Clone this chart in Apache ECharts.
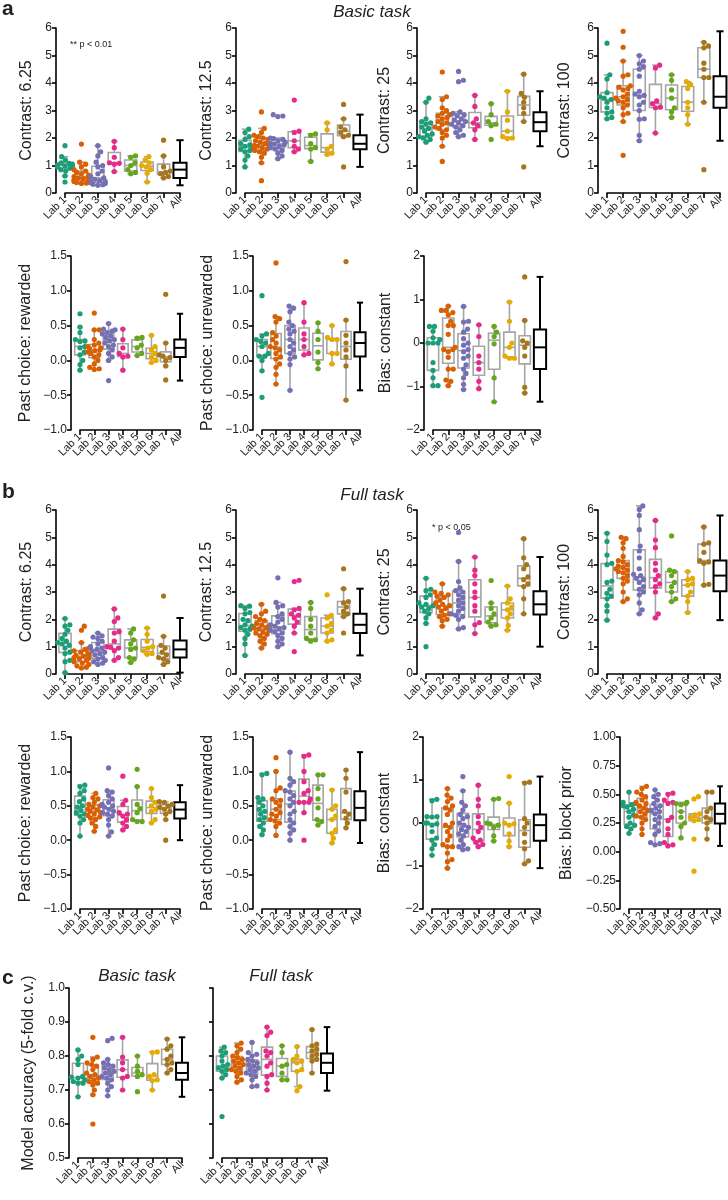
<!DOCTYPE html>
<html><head><meta charset="utf-8">
<script src="https://cdn.jsdelivr.net/npm/echarts@6/dist/echarts.min.js"></script>
<style>html,body{margin:0;padding:0;background:#fff}#c{width:728px;height:1200px}</style>
</head><body><div id="c"></div>
<script>
// ---------- categories / colours ----------
const LABS = ['Lab 1','Lab 2','Lab 3','Lab 4','Lab 5','Lab 6','Lab 7','All'];
const COLORS = ['#1b9e77','#d95f02','#7570b3','#e7298a','#66a61e','#e6ab02','#a6761d'];

// ---------- a: Basic task ----------
const basicC625 = [
 [1.72,1.32,1.2,1.1,1.08,1.05,1.02,1.0,0.98,0.95,0.9,0.85,0.8,0.62,0.4],
 [1.78,1.12,1.05,0.95,0.85,0.8,0.75,0.7,0.65,0.6,0.58,0.55,0.52,0.5,0.48,0.45,0.42,0.4,0.38,0.36,0.35],
 [1.72,1.5,1.35,1.12,1.0,0.95,0.8,0.7,0.6,0.55,0.5,0.45,0.42,0.4,0.38,0.35,0.32,0.3,0.28],
 [1.88,1.65,1.3,1.1,1.08,1.05,0.78],
 [1.35,1.3,1.1,1.0,0.85,0.75,0.7],
 [1.32,1.2,1.1,1.0,0.95,0.85,0.72,0.4],
 [1.92,1.35,0.95,0.8,0.75,0.7,0.6,0.55]];
const basicC125 = [
 [2.32,2.2,2.05,1.95,1.8,1.75,1.7,1.65,1.6,1.55,1.5,1.35,1.2,0.95],
 [2.95,2.35,2.2,2.1,2.05,2.0,1.95,1.9,1.85,1.8,1.75,1.72,1.7,1.65,1.6,1.55,1.5,1.45,1.3,1.1,0.45],
 [2.85,2.8,2.78,2.0,1.98,1.95,1.9,1.85,1.8,1.78,1.75,1.7,1.65,1.6,1.55,1.45,1.35,1.25],
 [3.38,2.25,2.2,1.9,1.7,1.6,1.5],
 [2.15,2.1,1.8,1.65,1.6,1.15],
 [2.55,2.3,1.7,1.6,1.45,1.4],
 [3.22,2.7,2.4,2.3,2.2,2.1,2.05,0.95]];
const basicC25 = [
 [3.45,3.3,2.7,2.6,2.55,2.5,2.4,2.35,2.25,2.15,2.1,2.05,2.0,1.95,1.85],
 [4.4,3.5,3.4,3.1,3.0,2.9,2.85,2.8,2.75,2.7,2.6,2.55,2.5,2.4,2.35,2.3,2.2,2.1,2.0,1.7,1.15],
 [4.42,4.1,4.05,2.95,2.9,2.85,2.8,2.7,2.65,2.6,2.55,2.5,2.45,2.4,2.3,2.2,2.1,2.05],
 [3.55,3.15,2.7,2.55,2.45,2.3,1.95],
 [3.25,2.85,2.6,2.5,2.45,1.95],
 [3.7,2.95,2.65,2.25,2.05,2.0,1.98],
 [4.32,3.62,3.48,3.3,3.1,2.9,2.6,0.95]];
const basicC100 = [
 [5.45,4.3,4.15,3.65,3.5,3.45,3.4,3.3,3.1,2.95,2.9,2.75,2.7],
 [5.88,5.3,4.8,4.3,4.25,3.9,3.85,3.8,3.75,3.6,3.5,3.45,3.4,3.35,3.3,3.2,3.1,2.9,2.85,2.6,1.37],
 [5.0,4.8,4.7,4.6,4.5,4.25,3.7,3.6,3.55,3.5,3.3,3.2,3.0,2.7,2.68,2.1,1.9],
 [4.65,4.55,3.35,3.25,3.12,3.1,2.18],
 [4.3,4.1,3.75,3.45,3.1,2.95,2.75],
 [4.05,3.95,3.8,3.3,3.1,2.85,2.5],
 [5.48,5.35,5.28,4.72,4.5,4.2,4.2,3.3,0.85]];
const basicRew = [
 [0.67,0.48,0.4,0.3,0.28,0.27,0.2,0.18,0.12,0.08,0.0,-0.06,-0.14],
 [0.68,0.44,0.44,0.3,0.25,0.22,0.2,0.18,0.17,0.15,0.14,0.12,0.1,0.08,0.05,0.0,-0.05,-0.1,-0.12,-0.13],
 [0.53,0.45,0.44,0.42,0.4,0.38,0.35,0.33,0.3,0.28,0.25,0.22,0.2,0.15,0.1,0.05,0.0,-0.29],
 [0.45,0.3,0.18,0.1,0.06,0.05,-0.14],
 [0.33,0.32,0.22,0.18,0.1,0.07],
 [0.36,0.2,0.15,0.1,0.05,0.0,-0.03],
 [0.95,0.25,0.08,0.06,0.04,0.0,-0.08,-0.28]];
const basicUnrew = [
 [0.93,0.38,0.35,0.3,0.27,0.25,0.2,0.1,0.06,0.06,0.0,-0.15,-0.53],
 [1.4,0.63,0.6,0.55,0.4,0.35,0.3,0.25,0.2,0.18,0.15,0.1,0.05,0.02,-0.05,-0.1,-0.2,-0.34],
 [0.78,0.75,0.7,0.55,0.5,0.45,0.42,0.38,0.3,0.25,0.2,0.15,0.1,0.05,0.02,-0.06,-0.43],
 [0.83,0.55,0.38,0.3,0.2,0.1,0.08],
 [0.54,0.42,0.3,0.12,-0.03,-0.12],
 [0.5,0.33,0.3,0.3,0.1,0.1,-0.05],
 [1.42,0.58,0.36,0.25,0.15,0.05,-0.08,-0.57]];
const basicBias = [
 [0.38,0.38,0.27,0.12,0.08,0.0,0.0,0.0,-0.45,-0.63,-0.8,-0.98,-0.98],
 [0.85,0.75,0.75,0.7,0.65,0.5,0.4,0.4,0.2,-0.1,-0.15,-0.15,-0.2,-0.33,-0.6,-0.6,-0.85,-0.88,-0.98],
 [0.84,0.5,0.48,0.32,0.25,0.1,0.0,-0.05,-0.15,-0.2,-0.3,-0.35,-0.5,-0.6,-0.7,-0.8,-0.95,-1.07],
 [0.42,0.15,-0.3,-0.45,-0.6,-0.88,-1.05],
 [0.38,0.25,0.15,-0.02,-0.8,-1.35],
 [0.94,0.5,0.0,-0.1,-0.3,-0.35,-0.35],
 [1.52,0.52,0.05,0.0,-0.1,-0.3,-1.02,-1.15]];

// ---------- b: Full task ----------
const fullC625 = [
 [2.03,1.8,1.75,1.6,1.45,1.3,1.2,1.15,1.1,1.05,0.95,0.8,0.75,0.5,0.45,0.05],
 [1.75,1.6,1.15,0.95,0.9,0.85,0.8,0.75,0.7,0.68,0.65,0.6,0.58,0.55,0.5,0.45,0.4,0.35,0.3,0.25,0.22],
 [1.5,1.4,1.35,1.3,1.2,1.1,1.0,0.95,0.9,0.85,0.8,0.75,0.7,0.6,0.55,0.5,0.45,0.4,0.35],
 [2.38,2.05,1.92,1.55,1.5,1.2,1.0,0.98,0.95,0.85,0.6,0.5],
 [1.65,1.5,1.25,1.1,0.95,0.9,0.6,0.55,0.42],
 [1.68,1.45,1.2,1.0,0.95,0.85,0.75,0.72],
 [2.85,1.38,1.05,0.95,0.8,0.7,0.6,0.55,0.45,0.35]];
const fullC125 = [
 [2.5,2.48,2.4,2.25,2.2,2.0,1.95,1.8,1.75,1.7,1.65,1.6,1.45,1.3,1.1,0.68],
 [2.55,2.3,2.2,2.1,2.0,1.95,1.85,1.8,1.75,1.7,1.68,1.65,1.6,1.55,1.5,1.45,1.4,1.3,1.2,1.1,0.95],
 [3.52,2.62,2.5,2.45,2.2,2.1,2.0,1.9,1.8,1.75,1.7,1.65,1.6,1.55,1.5,1.4,1.3,1.2,1.1,1.0],
 [3.43,3.38,2.4,2.35,2.2,2.15,2.05,1.9,1.75,1.5,0.82],
 [2.62,2.4,2.0,1.75,1.5,1.3,1.25,1.2],
 [2.9,2.15,2.05,1.85,1.75,1.6,1.5,1.25,1.2],
 [3.85,3.12,2.65,2.6,2.45,2.3,2.2,2.1,1.5]];
const fullC25 = [
 [3.5,3.1,3.05,2.9,2.8,2.6,2.55,2.5,2.45,2.4,2.3,2.2,2.05,1.85,1.0],
 [3.3,3.0,2.95,2.9,2.85,2.8,2.7,2.6,2.55,2.5,2.45,2.4,2.3,2.2,2.15,2.1,2.0,1.95,1.75],
 [5.18,4.12,3.38,3.15,3.05,3.0,2.9,2.8,2.7,2.6,2.5,2.4,2.3,2.2,2.15,2.1,2.0,1.7,1.65],
 [4.28,3.8,3.6,3.3,3.0,2.8,2.5,2.3,1.88,1.8,1.48],
 [3.42,2.6,2.4,2.2,2.05,1.9,1.8,1.75],
 [3.22,2.75,2.6,2.45,2.35,2.2,2.05,1.78,1.6],
 [4.95,4.25,4.0,3.85,3.55,3.45,3.3,3.2,2.75,2.2]];
const fullC100 = [
 [5.15,4.85,4.35,4.05,4.0,3.4,3.35,3.1,2.95,2.85,2.75,2.5,2.3,1.97],
 [5.0,4.95,4.8,4.6,4.3,4.15,4.1,4.0,3.95,3.9,3.85,3.8,3.75,3.7,3.6,3.5,3.4,3.3,3.0,2.75,2.65],
 [6.15,6.02,5.8,5.28,4.68,4.5,4.25,3.85,3.65,3.6,3.5,3.45,3.35,3.2,3.1,3.0,2.9,2.6,2.35,2.2],
 [5.62,4.9,4.62,4.05,3.8,3.6,3.45,3.3,3.2,3.0,2.2,2.05],
 [5.05,3.8,3.75,3.6,3.35,3.2,3.0,2.75,2.65],
 [3.75,3.5,3.45,3.3,3.25,3.0,2.85,2.65,2.25],
 [5.38,4.8,4.75,4.45,4.15,4.1,4.05,3.28,3.25]];
const fullRew = [
 [0.8,0.78,0.72,0.68,0.6,0.56,0.5,0.48,0.43,0.4,0.38,0.35,0.3,0.25,0.06],
 [0.68,0.62,0.6,0.55,0.52,0.5,0.48,0.45,0.44,0.42,0.4,0.38,0.36,0.34,0.32,0.3,0.25,0.2,0.13],
 [1.05,0.72,0.7,0.65,0.6,0.55,0.52,0.5,0.48,0.45,0.42,0.4,0.38,0.35,0.3,0.22,0.12,0.06],
 [0.93,0.58,0.52,0.4,0.38,0.35,0.3,0.25,0.2,0.15],
 [1.03,0.78,0.52,0.46,0.4,0.3,0.27,0.27],
 [0.75,0.62,0.55,0.5,0.45,0.42,0.3,0.25],
 [0.56,0.55,0.52,0.5,0.48,0.45,0.42,0.38,0.3,0.0]];
const fullUnrew = [
 [0.97,0.95,0.62,0.6,0.55,0.5,0.45,0.42,0.38,0.33,0.3,0.25,0.2,0.15,0.08],
 [1.2,1.0,0.76,0.72,0.6,0.58,0.55,0.5,0.45,0.4,0.38,0.35,0.3,0.28,0.25,0.2,0.07],
 [1.28,0.9,0.85,0.8,0.72,0.7,0.65,0.6,0.55,0.5,0.42,0.38,0.3,0.25,0.2,0.15,0.1,0.0],
 [1.24,1.22,1.0,0.85,0.72,0.68,0.6,0.55,0.55,0.55,0.4,0.0],
 [0.95,0.95,0.75,0.6,0.47,0.3,0.27,0.22],
 [0.73,0.5,0.45,0.35,0.3,0.15,0.1,0.03,-0.04],
 [1.02,0.9,0.7,0.42,0.38,0.32,0.25,0.18]];
const fullBias = [
 [0.55,0.52,0.15,0.15,0.14,0.0,0.0,-0.02,-0.05,-0.2,-0.35,-0.4,-0.5,-0.6,-0.75],
 [0.8,0.65,0.58,0.5,0.4,0.35,0.3,0.2,0.0,-0.05,-0.1,-0.2,-0.3,-0.4,-0.5,-0.55,-0.55,-0.7,-0.85,-0.9,-1.05],
 [1.08,0.75,0.48,0.4,0.3,0.2,0.15,0.1,0.0,-0.05,-0.1,-0.15,-0.2,-0.25,-0.3,-0.4,-0.5,-0.55,-0.6,-0.62],
 [0.88,0.55,0.4,0.15,0.0,-0.1,-0.2,-0.35,-0.4,-0.45,-0.5,-0.55],
 [0.57,0.55,0.0,-0.02,-0.05,-0.1,-0.3,-0.42],
 [1.08,0.46,0.0,-0.02,-0.05,-0.25,-0.42,-0.55],
 [0.95,0.93,0.1,0.0,-0.1,-0.25,-0.45,-0.6,-0.88,-0.95]];
const fullBlock = [
 [0.52,0.43,0.42,0.41,0.4,0.39,0.37,0.35,0.32,0.3,0.25,0.23,0.22,0.2,0.16],
 [0.57,0.55,0.52,0.5,0.48,0.45,0.43,0.42,0.4,0.38,0.36,0.35,0.33,0.31,0.3,0.28,0.25,0.2,0.15],
 [0.54,0.5,0.48,0.45,0.42,0.4,0.38,0.36,0.35,0.33,0.3,0.28,0.25,0.22,0.18,0.15,0.08,0.07,0.06],
 [0.51,0.5,0.45,0.43,0.42,0.3,0.27,0.2,0.15,0.08,0.06,0.05],
 [0.43,0.42,0.42,0.41,0.35,0.3,0.25,0.22,0.12],
 [0.48,0.46,0.33,0.32,0.3,0.28,0.27,0.11,-0.17],
 [0.52,0.52,0.38,0.35,0.3,0.28,0.25,0.2,0.11]];

// ---------- c: model accuracy ----------
const accBasic = [
 [0.818,0.8,0.79,0.775,0.74,0.738,0.735,0.73,0.725,0.72,0.72,0.68],
 [0.855,0.797,0.79,0.78,0.775,0.77,0.76,0.75,0.745,0.74,0.735,0.73,0.725,0.72,0.715,0.7,0.686,0.6],
 [0.852,0.845,0.79,0.78,0.775,0.77,0.765,0.76,0.755,0.75,0.745,0.74,0.735,0.73,0.72,0.71,0.7,0.683],
 [0.855,0.797,0.78,0.76,0.74,0.735,0.7],
 [0.8,0.77,0.755,0.745,0.74,0.695],
 [0.812,0.81,0.745,0.74,0.73,0.728,0.7],
 [0.85,0.83,0.82,0.8,0.79,0.78,0.775,0.76,0.75]];
const accFull = [
 [0.826,0.815,0.81,0.8,0.785,0.775,0.77,0.765,0.76,0.755,0.745,0.735,0.622],
 [0.838,0.83,0.82,0.81,0.8,0.795,0.79,0.785,0.78,0.775,0.77,0.765,0.76,0.755,0.75,0.74,0.73,0.723],
 [0.84,0.81,0.805,0.8,0.79,0.785,0.78,0.775,0.77,0.765,0.76,0.755,0.75,0.745,0.74,0.73,0.712,0.71],
 [0.885,0.87,0.86,0.815,0.81,0.8,0.78,0.77,0.745,0.74,0.72,0.7],
 [0.83,0.81,0.775,0.77,0.75,0.73,0.73],
 [0.828,0.8,0.79,0.785,0.78,0.76,0.755,0.71,0.698],
 [0.878,0.835,0.83,0.82,0.815,0.805,0.8,0.79,0.785,0.75]];

// ---------- layout (positions / styles only) ----------
const FONT = 'Liberation Sans, Arial, sans-serif';
const A1 = {top:28, h:165}, A2 = {top:256, h:174}, B1 = {top:510, h:164}, B2 = {top:737, h:172}, C = {top:988, h:170};
const CON = {ymin:0, ymax:6, step:1, dec:0};
const PC = {ymin:-1, ymax:1.5, step:0.5, dec:1};
const BC = {ymin:-2, ymax:2, step:1, dec:0};
const PANELS = [
 {data:basicC625, name:'Contrast: 6.25', ...A1, ...CON, x0:65, x1:180, gap:21},
 {data:basicC125, name:'Contrast: 12.5', ...A1, ...CON, x0:245, x1:360, gap:21},
 {data:basicC25, name:'Contrast: 25', ...A1, ...CON, x0:426, x1:540, gap:24},
 {data:basicC100, name:'Contrast: 100', ...A1, ...CON, x0:607, x1:720, gap:25},
 {data:basicRew, name:'Past choice: rewarded', ...A2, ...PC, x0:80, x1:180, gap:37},
 {data:basicUnrew, name:'Past choice: unrewarded', ...A2, ...PC, x0:262, x1:360, gap:37},
 {data:basicBias, name:'Bias: constant', ...A2, ...BC, x0:433, x1:540, gap:30},
 {data:fullC625, name:'Contrast: 6.25', ...B1, ...CON, x0:65, x1:180, gap:21},
 {data:fullC125, name:'Contrast: 12.5', ...B1, ...CON, x0:245, x1:360, gap:21},
 {data:fullC25, name:'Contrast: 25', ...B1, ...CON, x0:426, x1:540, gap:24},
 {data:fullC100, name:'Contrast: 100', ...B1, ...CON, x0:607, x1:720, gap:25},
 {data:fullRew, name:'Past choice: rewarded', ...B2, ...PC, x0:80, x1:180, gap:37},
 {data:fullUnrew, name:'Past choice: unrewarded', ...B2, ...PC, x0:262, x1:360, gap:37},
 {data:fullBias, name:'Bias: constant', ...B2, ...BC, x0:432, x1:540, gap:30},
 {data:fullBlock, name:'Bias: block prior', ...B2, ymin:-0.5, ymax:1, step:0.25, dec:2, x0:629, x1:720, gap:45},
 {data:accBasic, name:'Model accuracy (5-fold c.v.)', ...C, ymin:0.5, ymax:1, step:0.1, dec:1, x0:78, x1:182, gap:32},
 {data:accFull, name:'', ...C, ymin:0.5, ymax:1, step:0.1, dec:1, x0:222, x1:327, gap:30, noLabels:true}
];

// ---------- helpers ----------
function quant(s, p){ const pos=(s.length-1)*p, lo=Math.floor(pos), hi=Math.ceil(pos); return s[lo]+(s[hi]-s[lo])*(pos-lo); }
function boxStats(vals){
  const s=[...vals].sort((a,b)=>a-b);
  const q1=quant(s,0.25), med=quant(s,0.5), q3=quant(s,0.75), iqr=q3-q1;
  const lo=s.find(v=>v>=q1-1.5*iqr), hi=[...s].reverse().find(v=>v<=q3+1.5*iqr);
  return [lo,q1,med,q3,hi];
}
function swarm(vals, pxY, r, maxOff){
  const d=2*r, idx=vals.map((v,i)=>i).sort((a,b)=>vals[a]-vals[b]);
  const placed=[], offs=new Array(vals.length);
  for(const i of idx){
    const y=vals[i]*pxY;
    const nb=placed.filter(p=>Math.abs(p.y-y)<d);
    const cands=[0];
    nb.forEach(p=>{const dx=Math.sqrt(d*d-(p.y-y)*(p.y-y)); cands.push(p.x+dx,p.x-dx);});
    cands.sort((a,b)=>Math.abs(a)-Math.abs(b));
    let ch=cands[cands.length-1];
    for(const c of cands){ if(nb.every(p=>(p.x-c)*(p.x-c)+(p.y-y)*(p.y-y)>=d*d-1e-6)){ch=c;break;} }
    placed.push({x:ch,y}); offs[i]=ch;
  }
  return offs.map(o=>Math.max(-maxOff,Math.min(maxOff,o)));
}
function fmt(v,dec){ if(Math.abs(v)<1e-9) v=0; return v.toFixed(dec).replace('-','\u2212'); }

function boxRender(params, api){
  const i=api.value(0);
  const cx=api.coord([i,api.value(1)])[0];
  const yLo=api.coord([i,api.value(1)])[1], yQ1=api.coord([i,api.value(2)])[1],
        yMed=api.coord([i,api.value(3)])[1], yQ3=api.coord([i,api.value(4)])[1], yHi=api.coord([i,api.value(5)])[1];
  const unit=api.size([1,0])[0];
  const all=i===7;
  const bw=unit*(all?0.8:0.74), cw=bw*0.55;
  const stroke=all?'#000':'#a5a5a5', lw=all?2:1.6;
  const ls={stroke, lineWidth:lw, fill:'none'};
  return {type:'group', children:[
    {type:'line', shape:{x1:cx,y1:yQ3,x2:cx,y2:yHi}, style:ls},
    {type:'line', shape:{x1:cx,y1:yQ1,x2:cx,y2:yLo}, style:ls},
    {type:'line', shape:{x1:cx-cw/2,y1:yHi,x2:cx+cw/2,y2:yHi}, style:ls},
    {type:'line', shape:{x1:cx-cw/2,y1:yLo,x2:cx+cw/2,y2:yLo}, style:ls},
    {type:'rect', shape:{x:cx-bw/2,y:yQ3,width:bw,height:yQ1-yQ3}, style:{stroke, lineWidth:lw, fill:all?'#fff':'none'}},
    {type:'line', shape:{x1:cx-bw/2,y1:yMed,x2:cx+bw/2,y2:yMed}, style:ls}
  ]};
}

// ---------- build option ----------
const grid=[], xAxis=[], yAxis=[], series=[];
PANELS.forEach((p,k)=>{
  grid.push({left:p.x0, top:p.top, width:p.x1-p.x0, height:p.h, containLabel:false, outerBoundsMode:'none'});
  // visible category axis (labels / ticks)
  xAxis.push({type:'category', gridIndex:k, data:LABS, boundaryGap:false,
    axisLine:{show:true, onZero:false, lineStyle:{color:'#000', width:1.6}},
    axisTick:{show:true, interval:0, length:5, lineStyle:{color:'#000', width:1.6}},
    splitLine:{show:false},
    axisLabel:{interval:0, hideOverlap:false, rotate:45, fontSize:11, color:'#222', margin:5, fontFamily:FONT}});
  // hidden value axis for marks (same extent as categories)
  xAxis.push({type:'value', gridIndex:k, min:0, max:7, show:false});
  yAxis.push({type:'value', gridIndex:k, min:p.ymin, max:p.ymax, interval:p.step, offset:9,
    name:p.name, nameLocation:'middle', nameGap:p.gap, nameRotate:90,
    nameTextStyle:{fontSize:16, color:'#222', fontFamily:FONT},
    axisLine:{show:true, onZero:false, lineStyle:{color:'#000', width:1.6}},
    axisTick:{show:true, length:4, lineStyle:{color:'#000', width:1.6}},
    splitLine:{show:false},
    axisLabel:{show:!p.noLabels, fontSize:12, color:'#222', margin:4, fontFamily:FONT, showMinLabel:true, showMaxLabel:true,
      formatter:v=>fmt(v,p.dec)}});
  const xi=2*k+1;
  const all=[].concat(...p.data);
  const boxes=p.data.map((v,i)=>[i,...boxStats(v)]);
  boxes.push([7,...boxStats(all)]);
  series.push({type:'custom', xAxisIndex:xi, yAxisIndex:k, renderItem:boxRender, data:boxes, z:1, silent:true,
    encode:{x:0, y:[1,2,3,4,5]}});
  const pxY=p.h/(p.ymax-p.ymin), pxX=(p.x1-p.x0)/7;
  p.data.forEach((vals,i)=>{
    const offs=swarm(vals,pxY,2.5,pxX*0.45);
    series.push({type:'scatter', xAxisIndex:xi, yAxisIndex:k, clip:false, z:3, silent:true,
      symbol:'circle', symbolSize:5.2, itemStyle:{color:COLORS[i], opacity:1},
      data:vals.map((v,j)=>[i+offs[j]/pxX, v])});
  });
});

const TXT = (text,x,y,font,align)=>({type:'text', x, y, style:{text, font, fill:'#222', textAlign:align||'center', textVerticalAlign:'middle'}});
const graphic = [
  TXT('a',2,9,'bold 21px '+FONT,'left'),
  TXT('Basic task',372,12,'italic 17px '+FONT),
  TXT('** p < 0.01',70,45,'9px '+FONT,'left'),
  TXT('b',2,492,'bold 21px '+FONT,'left'),
  TXT('Full task',372,495,'italic 17px '+FONT),
  TXT('* p < 0.05',432,528,'9px '+FONT,'left'),
  TXT('c',2,978,'bold 21px '+FONT,'left'),
  TXT('Basic task',137,976,'italic 17px '+FONT),
  TXT('Full task',281,976,'italic 17px '+FONT)
];

const chart=echarts.init(document.getElementById('c'),null,{renderer:'canvas',width:728,height:1200});
chart.setOption({backgroundColor:'#fff', animation:false, textStyle:{fontFamily:FONT}, grid, xAxis, yAxis, series, graphic});
</script></body></html>
